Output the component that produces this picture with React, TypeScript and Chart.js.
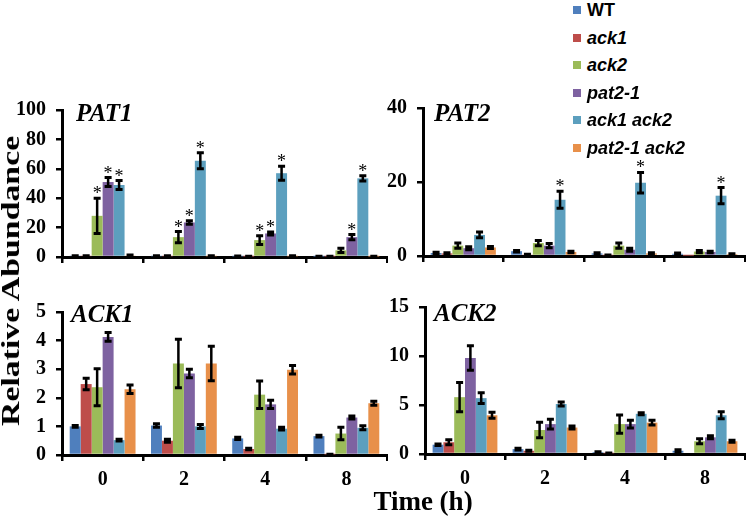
import React, { useEffect, useRef } from "react";
import { Chart, registerables } from "chart.js";

Chart.register(...registerables);

// ---------- data ----------
const TIMES = ["0", "2", "4", "8"];
const SERIES = ["WT", "ack1", "ack2", "pat2-1", "ack1 ack2", "pat2-1 ack2"];
const COLORS = ["#4F7FBD", "#BE4D4A", "#9BBB59", "#7E62A1", "#5C9FBE", "#E8904A"];

// PAT1 (rows follow SERIES order, columns follow TIMES)
const PAT1_MEAN = [
  [0.6, 0.5, 0.4, 0.3],
  [0.6, 0.5, 0.3, 0.3],
  [28, 13.5, 11.5, 4.5],
  [51, 23.5, 16, 13.5],
  [49, 65.5, 57, 53.5],
  [1.0, 0.5, 0.5, 0.3],
];
const PAT1_ERR = [
  [0.3, 0.3, 0.2, 0.2],
  [0.3, 0.3, 0.2, 0.2],
  [12, 3.8, 3, 1.5],
  [3, 1.2, 1, 1.8],
  [3, 5.5, 4.8, 1.8],
  [0.4, 0.3, 0.3, 0.2],
];
const PAT1_STAR = [
  [0, 0, 0, 0],
  [0, 0, 0, 0],
  [1, 1, 1, 0],
  [1, 1, 1, 1],
  [1, 1, 1, 1],
  [0, 0, 0, 0],
];

// PAT2
const PAT2_MEAN = [
  [0.8, 1.3, 0.7, 0.6],
  [0.7, 0.4, 0.2, 0.1],
  [2.8, 3.5, 2.8, 1.2],
  [2.1, 2.8, 1.7, 1.1],
  [5.7, 15.2, 19.8, 16.3],
  [2.3, 1.1, 0.7, 0.5],
];
const PAT2_ERR = [
  [0.2, 0.2, 0.2, 0.2],
  [0.2, 0.1, 0.1, 0.0],
  [0.7, 0.7, 0.7, 0.3],
  [0.4, 0.6, 0.4, 0.2],
  [0.8, 2.3, 2.8, 2.2],
  [0.3, 0.2, 0.2, 0.1],
];
const PAT2_STAR = [
  [0, 0, 0, 0],
  [0, 0, 0, 0],
  [0, 0, 0, 0],
  [0, 0, 0, 0],
  [0, 1, 1, 1],
  [0, 0, 0, 0],
];

// ACK1
const ACK1_MEAN = [
  [1.0, 1.03, 0.58, 0.66],
  [2.48, 0.5, 0.21, 0.02],
  [2.37, 3.2, 2.11, 0.75],
  [4.13, 2.85, 1.77, 1.31],
  [0.52, 1.0, 0.92, 0.95],
  [2.3, 3.2, 2.98, 1.81],
];
const ACK1_ERR = [
  [0.03, 0.06, 0.04, 0.03],
  [0.2, 0.05, 0.03, 0.01],
  [0.65, 0.85, 0.48, 0.22],
  [0.15, 0.15, 0.14, 0.05],
  [0.03, 0.07, 0.05, 0.07],
  [0.15, 0.6, 0.15, 0.07],
];
const ACK1_STAR = [
  [0, 0, 0, 0],
  [0, 0, 0, 0],
  [0, 0, 0, 0],
  [0, 0, 0, 0],
  [0, 0, 0, 0],
  [0, 0, 0, 0],
];

// ACK2
const ACK2_MEAN = [
  [0.95, 0.5, 0.2, 0.33],
  [1.2, 0.33, 0.07, 0],
  [5.8, 2.45, 3.05, 1.3],
  [9.8, 3.05, 3.05, 1.7],
  [5.7, 5.1, 4.1, 3.95],
  [3.95, 2.7, 3.2, 1.3],
];
const ACK2_ERR = [
  [0.07, 0.08, 0.03, 0.1],
  [0.25, 0.05, 0.02, 0],
  [1.5, 0.8, 0.93, 0.25],
  [1.25, 0.5, 0.4, 0.15],
  [0.55, 0.2, 0.1, 0.35],
  [0.3, 0.15, 0.25, 0.1],
];
const ACK2_STAR = [
  [0, 0, 0, 0],
  [0, 0, 0, 0],
  [0, 0, 0, 0],
  [0, 0, 0, 0],
  [0, 0, 0, 0],
  [0, 0, 0, 0],
];

// ---------- styling / layout ----------
const SERIF = '"Liberation Serif", "Times New Roman", serif';
const SANS = '"Liberation Sans", Arial, sans-serif';

type Area = { left: number; right: number; top: number; bottom: number };
type PanelDef = {
  title: string;
  mean: number[][];
  err: number[][];
  star: number[][];
  max: number;
  step: number;
  showX: boolean;
  area: Area;
  titlePos: { left: number; top: number };
};

const PANELS: PanelDef[] = [
  {
    title: "PAT1", mean: PAT1_MEAN, err: PAT1_ERR, star: PAT1_STAR, max: 100, step: 20, showX: false,
    area: { left: 62, right: 387, top: 102, bottom: 269 }, titlePos: { left: 76, top: 100 },
  },
  {
    title: "PAT2", mean: PAT2_MEAN, err: PAT2_ERR, star: PAT2_STAR, max: 40, step: 20, showX: false,
    area: { left: 423, right: 745, top: 100, bottom: 268 }, titlePos: { left: 434, top: 100 },
  },
  {
    title: "ACK1", mean: ACK1_MEAN, err: ACK1_ERR, star: ACK1_STAR, max: 5, step: 1, showX: true,
    area: { left: 62, right: 387, top: 304, bottom: 455 }, titlePos: { left: 71, top: 301 },
  },
  {
    title: "ACK2", mean: ACK2_MEAN, err: ACK2_ERR, star: ACK2_STAR, max: 15, step: 5, showX: true,
    area: { left: 425, right: 745, top: 299, bottom: 454 }, titlePos: { left: 434, top: 300 },
  },
];

const Y_AXIS_W = 56;
const PAD_TOP = 14;
const PAD_RIGHT = 1;

function errorBarPlugin(err: number[][], star: number[][]) {
  return {
    id: "errorBars",
    afterDatasetsDraw(chart: any) {
      const ctx = chart.ctx;
      const yScale = chart.scales.y;
      chart.data.datasets.forEach((ds: any, i: number) => {
        const meta = chart.getDatasetMeta(i);
        meta.data.forEach((bar: any, j: number) => {
          const v = ds.data[j] as number;
          const e = err[i][j];
          const x = bar.x;
          let yTop = yScale.getPixelForValue(v);
          ctx.save();
          ctx.strokeStyle = "#000";
          if (e > 0) {
            yTop = yScale.getPixelForValue(v + e);
            const yBot = yScale.getPixelForValue(Math.max(0, v - e));
            ctx.lineWidth = 2.5;
            ctx.beginPath();
            ctx.moveTo(x, yTop);
            ctx.lineTo(x, yBot);
            ctx.stroke();
            ctx.lineWidth = 3;
            ctx.beginPath();
            ctx.moveTo(x - 3.5, yTop);
            ctx.lineTo(x + 3.5, yTop);
            ctx.moveTo(x - 3.5, yBot);
            ctx.lineTo(x + 3.5, yBot);
            ctx.stroke();
          }
          if (star[i][j]) {
            ctx.fillStyle = "#000";
            ctx.font = `18px ${SERIF}`;
            ctx.textAlign = "center";
            ctx.textBaseline = "alphabetic";
            ctx.fillText("*", x, yTop + 1);
          }
          ctx.restore();
        });
      });
    },
  };
}

function Panel({ p }: { p: PanelDef }) {
  const ref = useRef<HTMLCanvasElement | null>(null);
  const xAxisH = p.showX ? 42 : 10;
  const cw = Y_AXIS_W + (p.area.right - p.area.left) + PAD_RIGHT;
  const ch = PAD_TOP + (p.area.bottom - p.area.top) + xAxisH;
  const left = p.area.left - Y_AXIS_W;
  const top = p.area.top - PAD_TOP;

  useEffect(() => {
    if (!ref.current) return;
    const chart = new Chart(ref.current, {
      type: "bar",
      data: {
        labels: TIMES,
        datasets: SERIES.map((s, i) => ({
          label: s,
          data: p.mean[i],
          backgroundColor: COLORS[i],
          borderWidth: 0,
          categoryPercentage: 0.81,
          barPercentage: 1.0,
        })),
      },
      options: {
        animation: false,
        responsive: false,
        maintainAspectRatio: false,
        devicePixelRatio: 1,
        layout: { padding: { top: PAD_TOP, right: PAD_RIGHT, left: 0, bottom: 0 } },
        plugins: { legend: { display: false }, tooltip: { enabled: false } },
        scales: {
          x: {
            grid: {
              offset: true,
              drawOnChartArea: false,
              drawTicks: true,
              tickLength: 6,
              color: "#000",
              lineWidth: 2.5,
            },
            border: { display: true, color: "#000", width: 3 },
            ticks: {
              display: p.showX,
              color: "#000",
              padding: 7,
              font: { family: SERIF, size: 20, weight: "bold" },
            },
            afterFit: (s: any) => {
              s.height = xAxisH;
            },
          },
          y: {
            min: 0,
            max: p.max,
            ticks: {
              stepSize: p.step,
              color: "#000",
              padding: 10,
              font: { family: SERIF, size: 20, weight: "bold" },
            },
            grid: {
              drawOnChartArea: false,
              drawTicks: true,
              tickLength: 6,
              color: "#000",
              lineWidth: 2.5,
            },
            border: { display: true, color: "#000", width: 3 },
            afterFit: (s: any) => {
              s.width = Y_AXIS_W;
            },
          },
        },
      } as any,
      plugins: [errorBarPlugin(p.err, p.star)],
    });
    return () => chart.destroy();
  }, []);

  return (
    <>
      <canvas
        ref={ref}
        width={cw}
        height={ch}
        style={{ position: "absolute", left, top, width: cw, height: ch, display: "block" }}
      />
      <div
        style={{
          position: "absolute",
          left: p.titlePos.left,
          top: p.titlePos.top,
          fontFamily: SERIF,
          fontSize: 25,
          fontWeight: "bold",
          fontStyle: "italic",
          lineHeight: 1,
          whiteSpace: "nowrap",
          color: "#000",
        }}
      >
        {p.title}
      </div>
    </>
  );
}

export default function App() {
  return (
    <div
      style={{
        position: "absolute",
        left: 0,
        top: 0,
        width: 747,
        height: 517,
        overflow: "hidden",
        background: "#fff",
      }}
    >
      {PANELS.map((p) => (
        <Panel key={p.title} p={p} />
      ))}

      {/* shared y-axis title */}
      <div
        style={{
          position: "absolute",
          left: 11,
          top: 281,
          transform: "translate(-50%, -50%) rotate(-90deg) scaleX(1.3)",
          fontFamily: SERIF,
          fontSize: 26,
          fontWeight: "bold",
          whiteSpace: "nowrap",
          lineHeight: 1,
          color: "#000",
        }}
      >
        Relative Abundance
      </div>

      {/* shared x-axis title */}
      <div
        style={{
          position: "absolute",
          left: 423,
          top: 501,
          transform: "translate(-50%, -50%)",
          fontFamily: SERIF,
          fontSize: 27,
          fontWeight: "bold",
          whiteSpace: "nowrap",
          lineHeight: 1,
          color: "#000",
        }}
      >
        Time (h)
      </div>

      {/* legend */}
      {SERIES.map((s, i) => (
        <div
          key={s}
          style={{
            position: "absolute",
            left: 573,
            top: 10 + 27.5 * i,
            transform: "translateY(-50%)",
            display: "flex",
            alignItems: "center",
            whiteSpace: "nowrap",
          }}
        >
          <span style={{ display: "inline-block", width: 8, height: 8, background: COLORS[i], marginRight: 6 }} />
          <span
            style={{
              fontFamily: SANS,
              fontSize: 18,
              fontWeight: "bold",
              fontStyle: i === 0 ? "normal" : "italic",
              lineHeight: 1,
              color: "#000",
            }}
          >
            {s}
          </span>
        </div>
      ))}
    </div>
  );
}
